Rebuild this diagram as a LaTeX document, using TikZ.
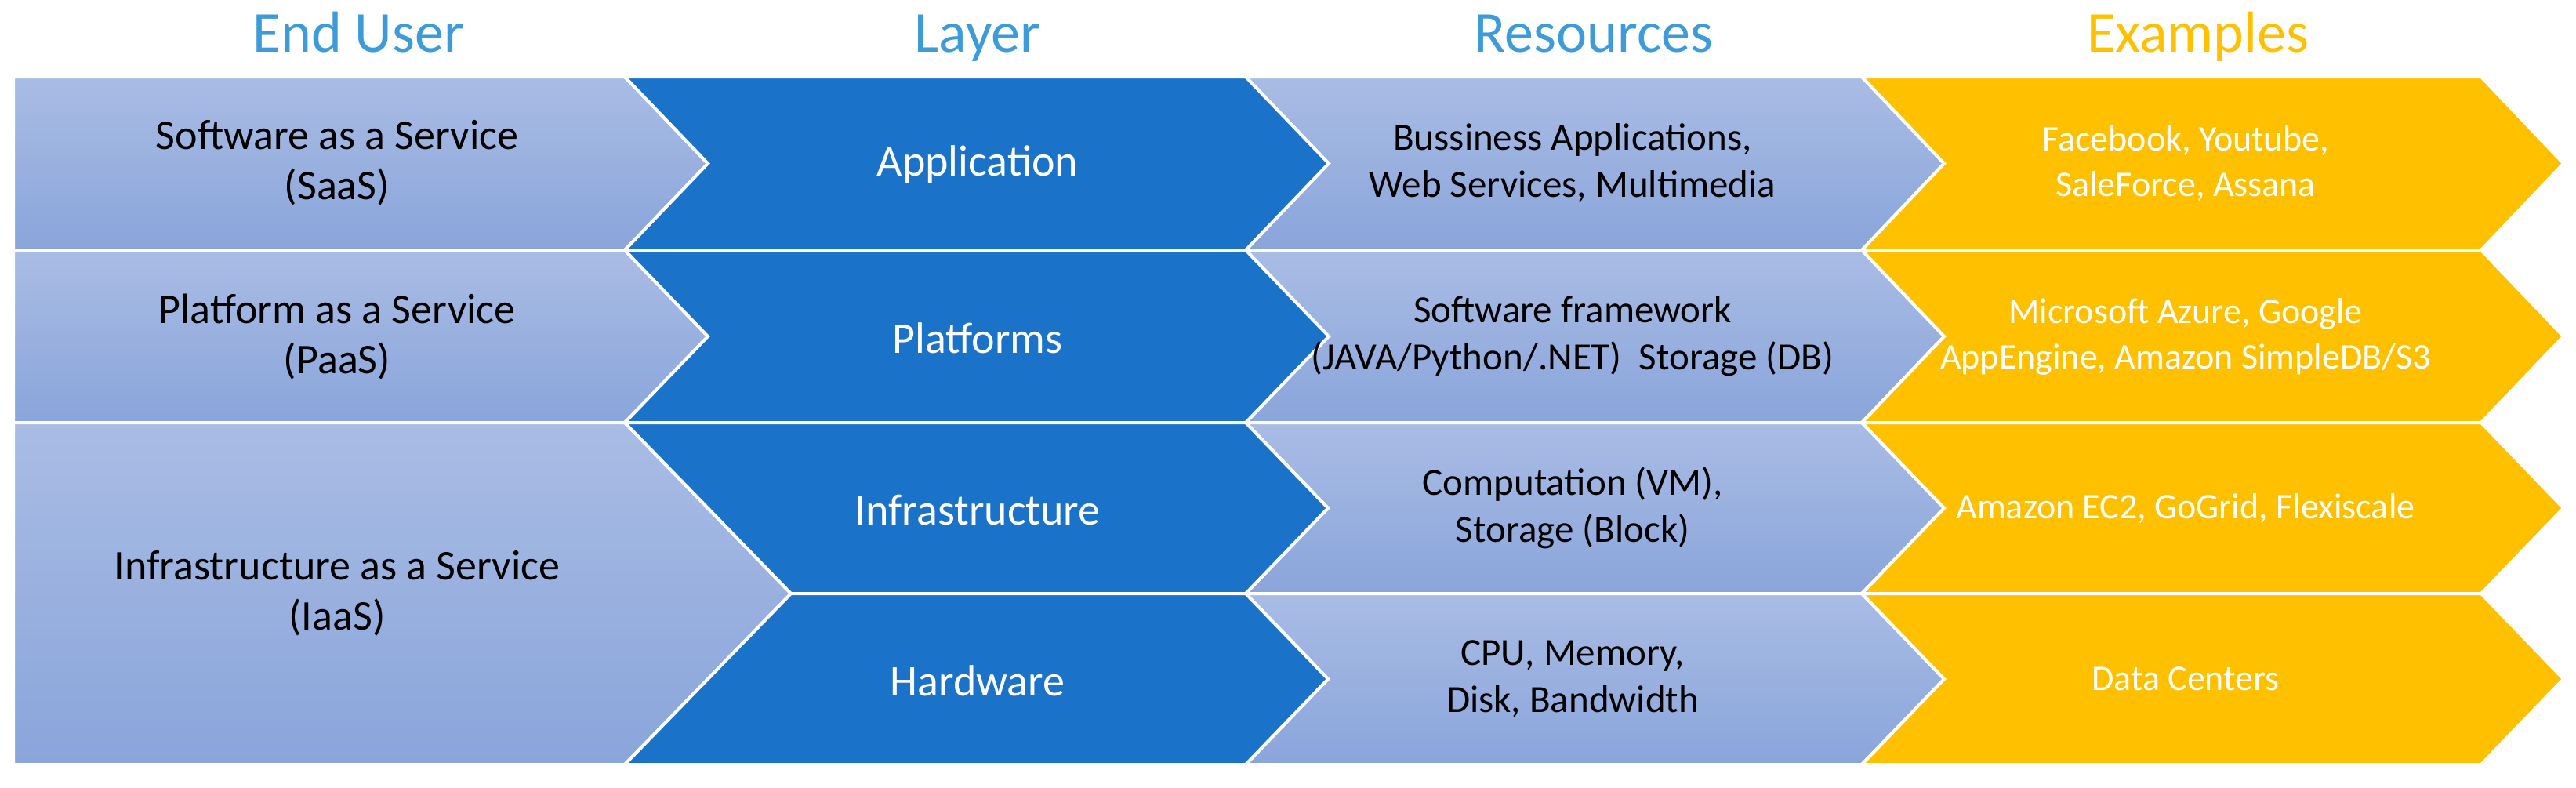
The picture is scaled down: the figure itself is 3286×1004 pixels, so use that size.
\documentclass[tikz,border=0pt]{standalone}
\usepackage{fontspec}
\setmainfont{Carlito}
\usetikzlibrary{positioning}
\definecolor{lightA}{HTML}{A9BCE4}
\definecolor{lightB}{HTML}{8AA5DB}
\definecolor{layerblue}{HTML}{1A73C8}
\definecolor{headblue}{HTML}{3C9BD8}
\definecolor{gold}{HTML}{FFC000}
\tikzset{
  light/.style={top color=lightA, bottom color=lightB, draw=white, line width=4pt},
  dark/.style={fill=layerblue, draw=white, line width=4pt},
  yellow/.style={fill=gold, draw=white, line width=4pt},
  head/.style={font=\fontsize{74}{80}\selectfont, anchor=base},
  txt/.style={font=\fontsize{46}{58}\selectfont, align=center, text=black},
  utxt/.style={txt, font=\fontsize{54}{64}\selectfont},
  rtxt/.style={txt, font=\fontsize{49}{60}\selectfont},
  ltxt/.style={txt, font=\fontsize{56}{64}\selectfont, text=white},
  wtxt/.style={txt, text=white}
}
% chevron: left x, shoulder x, depth, top y, bottom y
\newcommand{\chev}[6]{%
  \path[#1] (#2,#5) -- (#3,#5) -- (#3+#4,#5/2+#6/2) -- (#3,#6) -- (#2,#6)
    -- (#2+#4,#5/2+#6/2) -- cycle;}
\begin{document}
\begin{tikzpicture}[x=1pt,y=-1pt]
\useasboundingbox (0,0) rectangle (3286,1004);
% end user column
\path[light] (17,98) -- (797,98) -- (903,208.5) -- (797,319) -- (17,319) -- cycle;
\path[light] (17,319) -- (797,319) -- (903,429) -- (797,539) -- (17,539) -- cycle;
\path[light] (17,539) -- (797,539) -- (1009,757) -- (797,975) -- (17,975) -- cycle;
% resources and examples
\foreach \ya/\yb in {98/319, 319/539, 539/757, 757/975} {
  \chev{light}{1589}{2375}{105}{\ya}{\yb}
  \chev{yellow}{2375}{3165}{105}{\ya}{\yb}
}
% layer column
\chev{dark}{797}{1589}{106}{98}{319}
\chev{dark}{797}{1589}{106}{319}{539}
\path[dark] (797,539) -- (1589,539) -- (1694,648) -- (1589,757) -- (1009,757) -- cycle;
\path[dark] (1009,757) -- (1589,757) -- (1694,866) -- (1589,975) -- (797,975) -- cycle;
% headers
\node[head, text=headblue] (hUser) at (457,66) {End User};
\node[head, text=headblue] (hLayer) at (1247,66) {Layer};
\node[head, text=headblue] (hRes) at (2033,66) {Resources};
\node[head, text=gold] (hEx) at (2804,66) {Examples};
% end user
\node[utxt] (saas) at (430,208) {Software as a Service\\(SaaS)};
\node[utxt] (paas) at (430,429) {Platform as a Service\\(PaaS)};
\node[utxt] (iaas) at (430,757) {Infrastructure as a Service\\(IaaS)};
% layers
\node[ltxt] (app) at (1247,210) {Application};
\node[ltxt] (plat) at (1247,431) {Platforms};
\node[ltxt] (infra) at (1247,650) {Infrastructure};
\node[ltxt] (hw) at (1247,868) {Hardware};
% resources
\node[rtxt] (rApp) at (2006,208) {Bussiness Applications,\\Web Services, Multimedia};
\node[rtxt] (rPlat) at (2006,429) {Software framework\\(JAVA/Python/.NET)~~Storage (DB)};
\node[rtxt] (rInfra) at (2006,648) {Computation (VM),\\Storage (Block)};
\node[rtxt] (rHw) at (2006,866) {CPU, Memory,\\Disk, Bandwidth};
% examples
\node[wtxt] (eApp) at (2788,208) {Facebook, Youtube,\\SaleForce, Assana};
\node[wtxt] (ePlat) at (2788,429) {Microsoft Azure, Google\\AppEngine, Amazon SimpleDB/S3};
\node[wtxt] (eInfra) at (2788,648) {Amazon EC2, GoGrid, Flexiscale};
\node[wtxt] (eHw) at (2788,866) {Data Centers};
\end{tikzpicture}
\end{document}
